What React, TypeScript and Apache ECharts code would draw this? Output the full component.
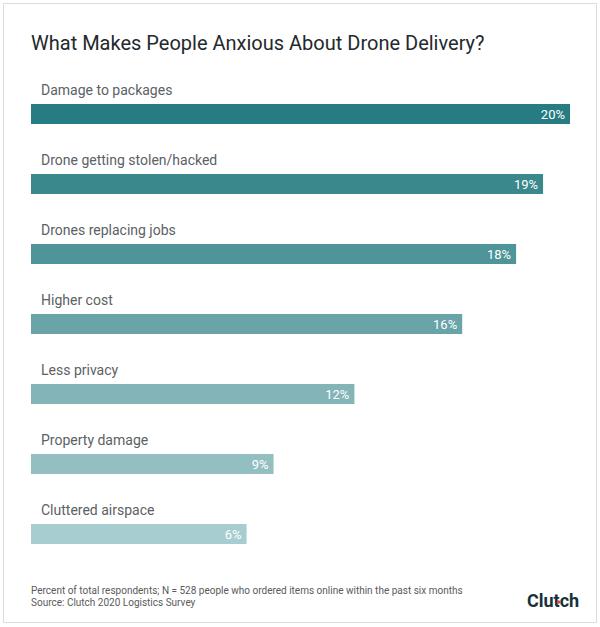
import React, { useEffect, useRef } from "react";
import * as echarts from "echarts";

const titleText = "What Makes People Anxious About Drone Delivery?";
const categories = [
  "Damage to packages",
  "Drone getting stolen/hacked",
  "Drones replacing jobs",
  "Higher cost",
  "Less privacy",
  "Property damage",
  "Cluttered airspace",
];
// bar lengths as drawn in the picture (percent)
const barValues = [20, 19, 18, 16, 12, 9, 8];
// value labels as printed
const valueLabels = ["20%", "19%", "18%", "16%", "12%", "9%", "6%"];
const barColors = ["#277b82", "#3a878c", "#4e9499", "#68a4a8", "#83b4b7", "#94bfc2", "#a8cdd0"];
const footnote1 = "Percent of total respondents; N = 528 people who ordered items online within the past six months";
const footnote2 = "Source: Clutch 2020 Logistics Survey";

export default function App() {
  const ref = useRef<HTMLDivElement>(null);
  useEffect(() => {
    if (!ref.current) return;
    const chart = echarts.init(ref.current, undefined, { renderer: "svg" });
    const font = "Roboto, 'Noto Sans', sans-serif";
    chart.setOption({
      animation: false,
      backgroundColor: "#ffffff",
      textStyle: { fontFamily: font },
      title: {
        text: titleText,
        left: 31,
        top: 33,
        padding: 0,
        textStyle: { fontSize: 20, fontWeight: "normal", color: "#23292c", fontFamily: font },
      },
      grid: { left: 31, width: 539, top: 79, height: 490, containLabel: false },
      xAxis: { type: "value", min: 0, max: 20, show: false },
      yAxis: {
        type: "category",
        data: categories,
        inverse: true,
        show: false,
      },
      series: [
        {
          type: "bar",
          barWidth: 20,
          data: barValues.map((v, i) => ({ value: v, itemStyle: { color: barColors[i] } })),
          label: {
            show: true,
            position: "insideRight",
            distance: 5,
            color: "#ffffff",
            fontSize: 13,
            fontFamily: font,
            formatter: (p: any) => valueLabels[p.dataIndex],
          },
          silent: true,
          z: 2,
        },
        {
          type: "bar",
          barWidth: 20,
          barGap: "-100%",
          data: barValues,
          itemStyle: { color: "rgba(0,0,0,0)" },
          label: {
            show: true,
            position: [10, -14],
            verticalAlign: "middle",
            align: "left",
            color: "#5b6164",
            fontSize: 14,
            fontFamily: font,
            formatter: (p: any) => categories[p.dataIndex],
          },
          silent: true,
          z: 3,
        },
      ],
      graphic: [
        {
          type: "rect",
          shape: { x: 3.5, y: 3.5, width: 593, height: 619 },
          style: { fill: "none", stroke: "#dcdcdc", lineWidth: 1 },
          silent: true,
        },
        {
          type: "text",
          x: 31,
          y: 590,
          style: { text: footnote1, fill: "#5a5a5a", fontSize: 10, fontFamily: font, textVerticalAlign: "middle" },
        },
        {
          type: "text",
          x: 31,
          y: 602,
          style: { text: footnote2, fill: "#5a5a5a", fontSize: 10, fontFamily: font, textVerticalAlign: "middle" },
        },
        {
          type: "text",
          x: 527,
          y: 600,
          style: { text: "Clutch", fill: "#17313b", fontSize: 18, fontWeight: "bold", fontFamily: font, textVerticalAlign: "middle" },
        },
        {
          type: "circle",
          shape: { cx: 558.5, cy: 602, r: 1.8 },
          style: { fill: "#e0463c" },
        },
      ],
    });
    return () => chart.dispose();
  }, []);
  return (
    <div
      ref={ref}
      style={{ position: "absolute", left: 0, top: 0, width: 600, height: 627 }}
    />
  );
}
